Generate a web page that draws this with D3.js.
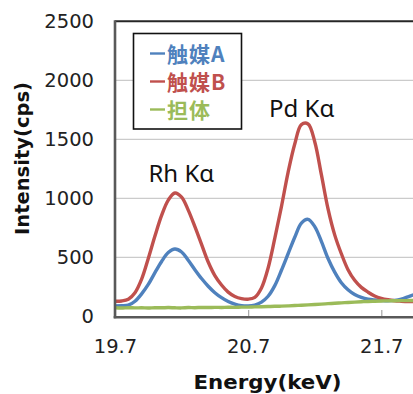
<!DOCTYPE html>
<html>
<head>
<meta charset="utf-8">
<script src="https://cdn.jsdelivr.net/npm/d3@7"></script>
<style>
  body { margin: 0; background: #fff; }
  svg { display: block; }
</style>
</head>
<body>
<div id="chart"></div>
<script>
// spectrum values (keV, cps)
var energy = [19.70, 19.75, 19.80, 19.85, 19.90, 19.95, 20.00, 20.05, 20.10, 20.15,
              20.20, 20.25, 20.30, 20.35, 20.40, 20.45, 20.50, 20.55, 20.60, 20.65,
              20.70, 20.75, 20.80, 20.85, 20.90, 20.95, 21.00, 21.05, 21.10, 21.15,
              21.20, 21.25, 21.30, 21.35, 21.40, 21.45, 21.50, 21.55, 21.60, 21.65,
              21.70, 21.75, 21.80, 21.85, 21.90, 21.95];
var catalystA = [88, 89, 94, 128, 190, 270, 370, 465, 540, 570,
                 545, 475, 395, 320, 255, 200, 158, 125, 103, 90,
                 87, 95, 120, 170, 260, 390, 530, 670, 790, 822,
                 760, 635, 490, 375, 285, 225, 185, 160, 145, 138,
                 134, 132, 135, 145, 165, 185];
var catalystB = [128, 130, 145, 200, 315, 490, 680, 855, 985, 1045,
                 1010, 900, 760, 610, 460, 345, 265, 205, 168, 150,
                 145, 160, 240, 410, 660, 930, 1220, 1460, 1625, 1630,
                 1480, 1200, 910, 690, 530, 395, 305, 245, 205, 172,
                 152, 140, 132, 128, 125, 124];
var support = [72, 70, 73, 71, 72, 70, 73, 72, 74, 72,
               71, 74, 73, 75, 74, 76, 75, 77, 76, 78,
               78, 80, 81, 83, 85, 86, 88, 91, 94, 97,
               100, 103, 107, 110, 114, 117, 120, 123, 126, 128,
               130, 131, 132, 133, 133, 134];

var seriesNames = ["触媒A", "触媒B", "担体"];
var seriesColors = ["#4f81bd", "#c0504d", "#9bbb59"];
var xTicks = [19.7, 20.7, 21.7];
var yTicks = [0, 500, 1000, 1500, 2000, 2500];
var peakLabels = ["Rh Kα", "Pd Kα"];
var peakEnergy = [20.198, 21.102];
var peakCps = [1140, 1692];

var W = 413, H = 394;
var plotLeft = 115, plotTop = 21.3, plotBottom = 316.3;

var svg = d3.select("#chart").append("svg")
    .attr("width", W)
    .attr("height", H)
    .style("background", "#fff");

var x = d3.scaleLinear().domain([19.7, 21.7]).range([plotLeft, 381.3]);
var y = d3.scaleLinear().domain([0, 2500]).range([plotBottom, plotTop]);

svg.append("clipPath").attr("id", "plotclip")
    .append("rect")
    .attr("x", plotLeft).attr("y", plotTop - 2)
    .attr("width", W - plotLeft).attr("height", plotBottom - plotTop + 2);

    // horizontal gridlines
svg.append("g")
    .selectAll("line")
    .data(yTicks.filter(function(d) { return d > 0 && d < 2500; }))
    .join("line")
    .attr("x1", plotLeft).attr("x2", W)
    .attr("y1", function(d) { return y(d); })
    .attr("y2", function(d) { return y(d); })
    .attr("stroke", "#bfbfbf")
    .attr("stroke-width", 1);

    // x tick marks point into the plot
var xAxis = svg.append("g")
    .attr("transform", "translate(0," + (plotBottom + 0.7) + ")")
    .call(d3.axisBottom(x).tickValues(xTicks).tickSize(-7).tickPadding(22)
        .tickFormat(d3.format(".1f")));
xAxis.select(".domain").remove();
xAxis.selectAll("line").attr("stroke", "#a6a6a6").attr("stroke-width", 1.2);
xAxis.selectAll("text")
    .attr("fill", "#222")
    .style("font-family", "'DejaVu Sans', Verdana, sans-serif")
    .style("font-size", "19.5px");

var yAxis = svg.append("g")
    .attr("transform", "translate(" + plotLeft + ",0)")
    .call(d3.axisLeft(y).tickValues(yTicks).tickSize(0).tickPadding(21)
        .tickFormat(d3.format("d")));
yAxis.select(".domain").remove();
yAxis.selectAll("text")
    .attr("fill", "#222")
    .style("font-family", "'DejaVu Sans', Verdana, sans-serif")
    .style("font-size", "19.5px");

    // the three spectra
var series = [catalystA, catalystB, support];
var line = d3.line()
    .x(function(d, i) { return x(energy[i]); })
    .y(function(d) { return y(d); })
    .curve(d3.curveCatmullRom.alpha(0.5));

svg.append("g")
    .attr("clip-path", "url(#plotclip)")
    .selectAll("path")
    .data(series)
    .join("path")
    .attr("d", line)
    .attr("fill", "none")
    .attr("stroke", function(d, i) { return seriesColors[i]; })
    .attr("stroke-width", 3.4)
    .attr("stroke-linejoin", "round");

    // plot frame
svg.append("line")
    .attr("x1", plotLeft).attr("x2", W).attr("y1", plotTop).attr("y2", plotTop)
    .attr("stroke", "#262626").attr("stroke-width", 2);
svg.append("line")
    .attr("x1", plotLeft).attr("x2", plotLeft).attr("y1", plotTop - 1).attr("y2", plotBottom + 2)
    .attr("stroke", "#595959").attr("stroke-width", 2.6);
svg.append("line")
    .attr("x1", plotLeft - 1.3).attr("x2", W).attr("y1", plotBottom + 0.9).attr("y2", plotBottom + 0.9)
    .attr("stroke", "#595959").attr("stroke-width", 2.4);

    // peak annotations
svg.append("g")
    .selectAll("text")
    .data(peakLabels)
    .join("text")
    .attr("x", function(d, i) { return x(peakEnergy[i]); })
    .attr("y", function(d, i) { return y(peakCps[i]); })
    .attr("text-anchor", "middle")
    .attr("fill", "#111")
    .style("font-family", "'Noto Sans', 'Open Sans', sans-serif")
    .style("font-size", "24px")
    .text(function(d) { return d; });

    // axis titles
svg.append("text")
    .attr("x", 267.5).attr("y", 388.5)
    .attr("text-anchor", "middle")
    .attr("textLength", 148)
    .attr("lengthAdjust", "spacingAndGlyphs")
    .attr("fill", "#111")
    .style("font-family", "'DejaVu Sans', Verdana, sans-serif")
    .style("font-weight", "bold")
    .style("font-size", "19px")
    .text("Energy(keV)");

svg.append("text")
    .attr("transform", "translate(28.5,158.5) rotate(-90)")
    .attr("text-anchor", "middle")
    .attr("textLength", 153)
    .attr("lengthAdjust", "spacingAndGlyphs")
    .attr("fill", "#111")
    .style("font-family", "'DejaVu Sans', Verdana, sans-serif")
    .style("font-weight", "bold")
    .style("font-size", "20px")
    .text("Intensity(cps)");

    // legend box
var legend = svg.append("g");
legend.append("rect")
    .attr("x", 133.5).attr("y", 33.5)
    .attr("width", 108).attr("height", 95.5)
    .attr("fill", "#fff")
    .attr("stroke", "#111")
    .attr("stroke-width", 1.6);

var rows = legend.selectAll("g.row")
    .data(seriesNames)
    .join("g")
    .attr("class", "row")
    .attr("transform", function(d, i) { return "translate(0," + (55 + i * 28) + ")"; });

rows.append("line")
    .attr("x1", 150).attr("x2", 165)
    .attr("y1", -1.5).attr("y2", -1.5)
    .attr("stroke", function(d, i) { return seriesColors[i]; })
    .attr("stroke-width", 2.4);

rows.append("text")
    .attr("x", 167)
    .attr("y", 7)
    .attr("fill", function(d, i) { return seriesColors[i]; })
    .style("font-family", "'Noto Sans CJK JP', sans-serif")
    .style("font-weight", "bold")
    .style("font-size", "21px")
    .style("letter-spacing", "1px")
    .text(function(d) { return d; });
</script>
</body>
</html>
